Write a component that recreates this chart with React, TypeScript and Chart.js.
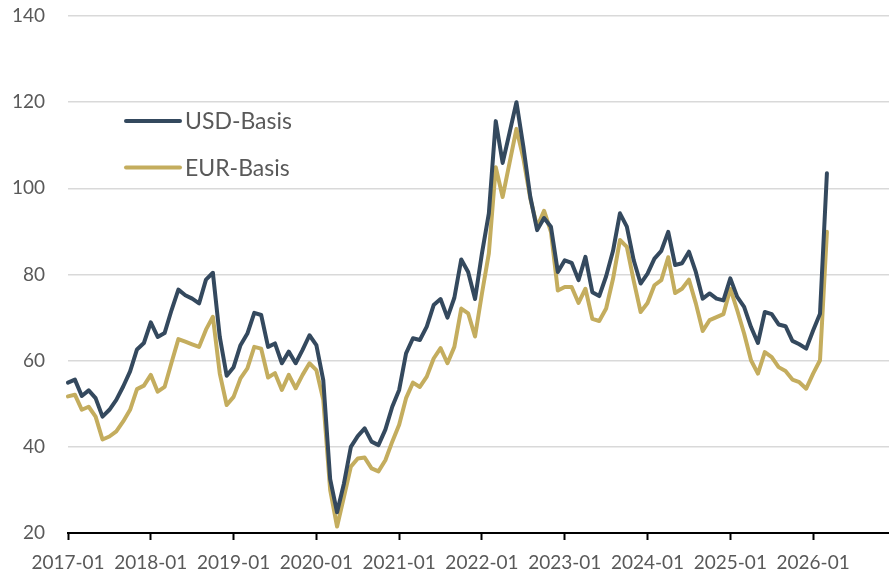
import React, { useEffect, useRef } from "react";
import { Chart, registerables } from "chart.js";

Chart.register(...registerables);

// Categories: monthly labels 2017-01 … 2026-12
const START_YEAR = 2017;
const END_YEAR = 2026;
const MONTHS: string[] = [];
for (let y = START_YEAR; y <= END_YEAR; y++) {
  for (let m = 1; m <= 12; m++) MONTHS.push(`${y}-${String(m).padStart(2, "0")}`);
}

const SERIES_NAMES = ["USD-Basis", "EUR-Basis"];

const USD_BASIS = [
  54.9, 55.6, 51.8, 53.1, 51.3, 47.0, 48.6, 50.9, 54.0, 57.5, 62.6, 64.1,
  68.9, 65.5, 66.4, 71.7, 76.5, 75.2, 74.4, 73.3, 78.8, 80.4, 65.5, 56.5,
  58.5, 63.6, 66.3, 71.1, 70.6, 63.2, 64.0, 59.4, 62.1, 59.4, 62.5, 65.9,
  63.6, 55.5, 32.5, 24.8, 31.5, 40.0, 42.5, 44.3, 41.2, 40.4, 44.0, 49.3,
  53.2, 61.7, 65.2, 64.8, 67.9, 72.9, 74.3, 70.0, 74.6, 83.5, 80.6, 74.3,
  84.9, 94.2, 115.6, 105.9, 112.9, 120.0, 109.7, 98.1, 90.3, 93.1, 91.1, 80.6,
  83.3, 82.7, 78.7, 84.1, 75.9, 75.0, 79.6, 85.5, 94.2, 91.1, 83.3, 77.9,
  80.2, 83.7, 85.5, 89.9, 82.2, 82.6, 85.3, 80.6, 74.4, 75.6, 74.4, 74.0,
  79.1, 74.8, 72.5, 67.8, 64.1, 71.3, 70.8, 68.4, 68.0, 64.6, 63.8, 62.8,
  67.0, 70.9, 103.5,
];

const EUR_BASIS = [
  51.7, 52.1, 48.6, 49.3, 47.0, 41.7, 42.4, 43.6, 45.9, 48.6, 53.4, 54.2,
  56.7, 52.8, 53.9, 59.5, 65.0, 64.4, 63.8, 63.2, 67.2, 70.2, 57.0, 49.7,
  51.6, 55.9, 58.2, 63.2, 62.8, 56.1, 57.1, 53.2, 56.7, 53.6, 56.7, 59.4,
  57.8, 50.9, 30.0, 21.5, 28.4, 35.4, 37.3, 37.5, 35.0, 34.3, 36.9, 41.2,
  45.1, 51.3, 54.9, 53.9, 56.3, 60.5, 62.9, 59.4, 63.2, 72.1, 71.0, 65.6,
  75.6, 84.9, 104.9, 98.0, 105.9, 113.8, 107.0, 97.7, 91.1, 94.8, 89.9, 76.3,
  77.1, 77.1, 73.4, 76.7, 69.7, 69.2, 72.1, 79.0, 88.0, 86.4, 78.5, 71.3,
  73.4, 77.5, 78.7, 84.0, 75.7, 76.7, 78.8, 73.3, 66.9, 69.4, 70.1, 70.8,
  76.7, 71.7, 66.3, 60.1, 57.0, 62.0, 60.8, 58.5, 57.6, 55.6, 55.0, 53.5,
  57.0, 60.1, 89.9,
];

const Y_MIN = 20;
const Y_MAX = 140;
const Y_STEP = 20;

const COLORS = ["#34495E", "#C4AD5E"];
const TEXT_COLOR = "#595959";
const FONT_FAMILY = "Lato, 'Open Sans', sans-serif";
const FONT_SIZE = 19;
const LEGEND_FONT_SIZE = 23;

const insideLegend = {
  id: "insideLegend",
  afterDraw(chart: any) {
    const { ctx, chartArea } = chart;
    const x0 = chartArea.left + 58;
    const y0 = chartArea.top + 105;
    ctx.save();
    chart.data.datasets.forEach((ds: any, i: number) => {
      const y = y0 + i * 46.5;
      ctx.strokeStyle = ds.borderColor;
      ctx.lineWidth = 4;
      ctx.lineCap = "round";
      ctx.beginPath();
      ctx.moveTo(x0, y);
      ctx.lineTo(x0 + 54, y);
      ctx.stroke();
      ctx.fillStyle = TEXT_COLOR;
      ctx.font = `${LEGEND_FONT_SIZE}px ${FONT_FAMILY}`;
      ctx.textBaseline = "middle";
      ctx.textAlign = "left";
      ctx.fillText(ds.label, x0 + 59, y + 1);
    });
    ctx.restore();
  },
};

export default function App() {
  const canvasRef = useRef<HTMLCanvasElement | null>(null);

  useEffect(() => {
    if (!canvasRef.current) return;
    const chart = new Chart(canvasRef.current, {
      type: "line",
      data: {
        labels: MONTHS,
        datasets: [USD_BASIS, EUR_BASIS].map((d, i) => ({
          label: SERIES_NAMES[i],
          data: d,
          borderColor: COLORS[i],
          backgroundColor: COLORS[i],
          borderWidth: 4,
          pointRadius: 0,
          tension: 0,
          borderJoinStyle: "round" as const,
          borderCapStyle: "round" as const,
          fill: false,
        })),
      },
      options: {
        animation: false,
        responsive: false,
        devicePixelRatio: 1,
        layout: { padding: { top: 16, right: 0, bottom: 0, left: 0 } },
        plugins: {
          legend: { display: false },
          tooltip: { enabled: false },
        },
        scales: {
          x: {
            type: "category",
            offset: false,
            grid: {
              drawOnChartArea: false,
              drawTicks: true,
              tickLength: 7,
              tickWidth: 2,
              tickColor: (ctx: any) => (ctx.index % 12 === 0 ? "#000000" : "rgba(0,0,0,0)"),
            },
            border: { display: true, color: "#000000", width: 2 },
            ticks: {
              autoSkip: false,
              maxRotation: 0,
              minRotation: 0,
              padding: 11,
              color: TEXT_COLOR,
              font: { family: FONT_FAMILY, size: FONT_SIZE },
              callback: (_v: any, i: number) => (i % 12 === 0 ? MONTHS[i] : ""),
            },
            afterFit: (s: any) => {
              s.height = 41;
              s.paddingLeft = 0;
              s.paddingRight = 0;
            },
          },
          y: {
            min: Y_MIN,
            max: Y_MAX,
            grid: { color: "#D9D9D9", lineWidth: 1.5, drawTicks: false },
            border: { display: false },
            ticks: {
              stepSize: Y_STEP,
              padding: 23,
              color: TEXT_COLOR,
              font: { family: FONT_FAMILY, size: FONT_SIZE },
            },
            afterFit: (s: any) => {
              s.width = 68;
              s.paddingTop = 0;
              s.paddingBottom = 0;
            },
          },
        },
      },
      plugins: [insideLegend],
    });
    return () => chart.destroy();
  }, []);

  return (
    <div style={{ position: "absolute", left: 0, top: 0, width: 889, height: 574, background: "#fff" }}>
      <canvas ref={canvasRef} width={889} height={574} style={{ display: "block" }} />
    </div>
  );
}
